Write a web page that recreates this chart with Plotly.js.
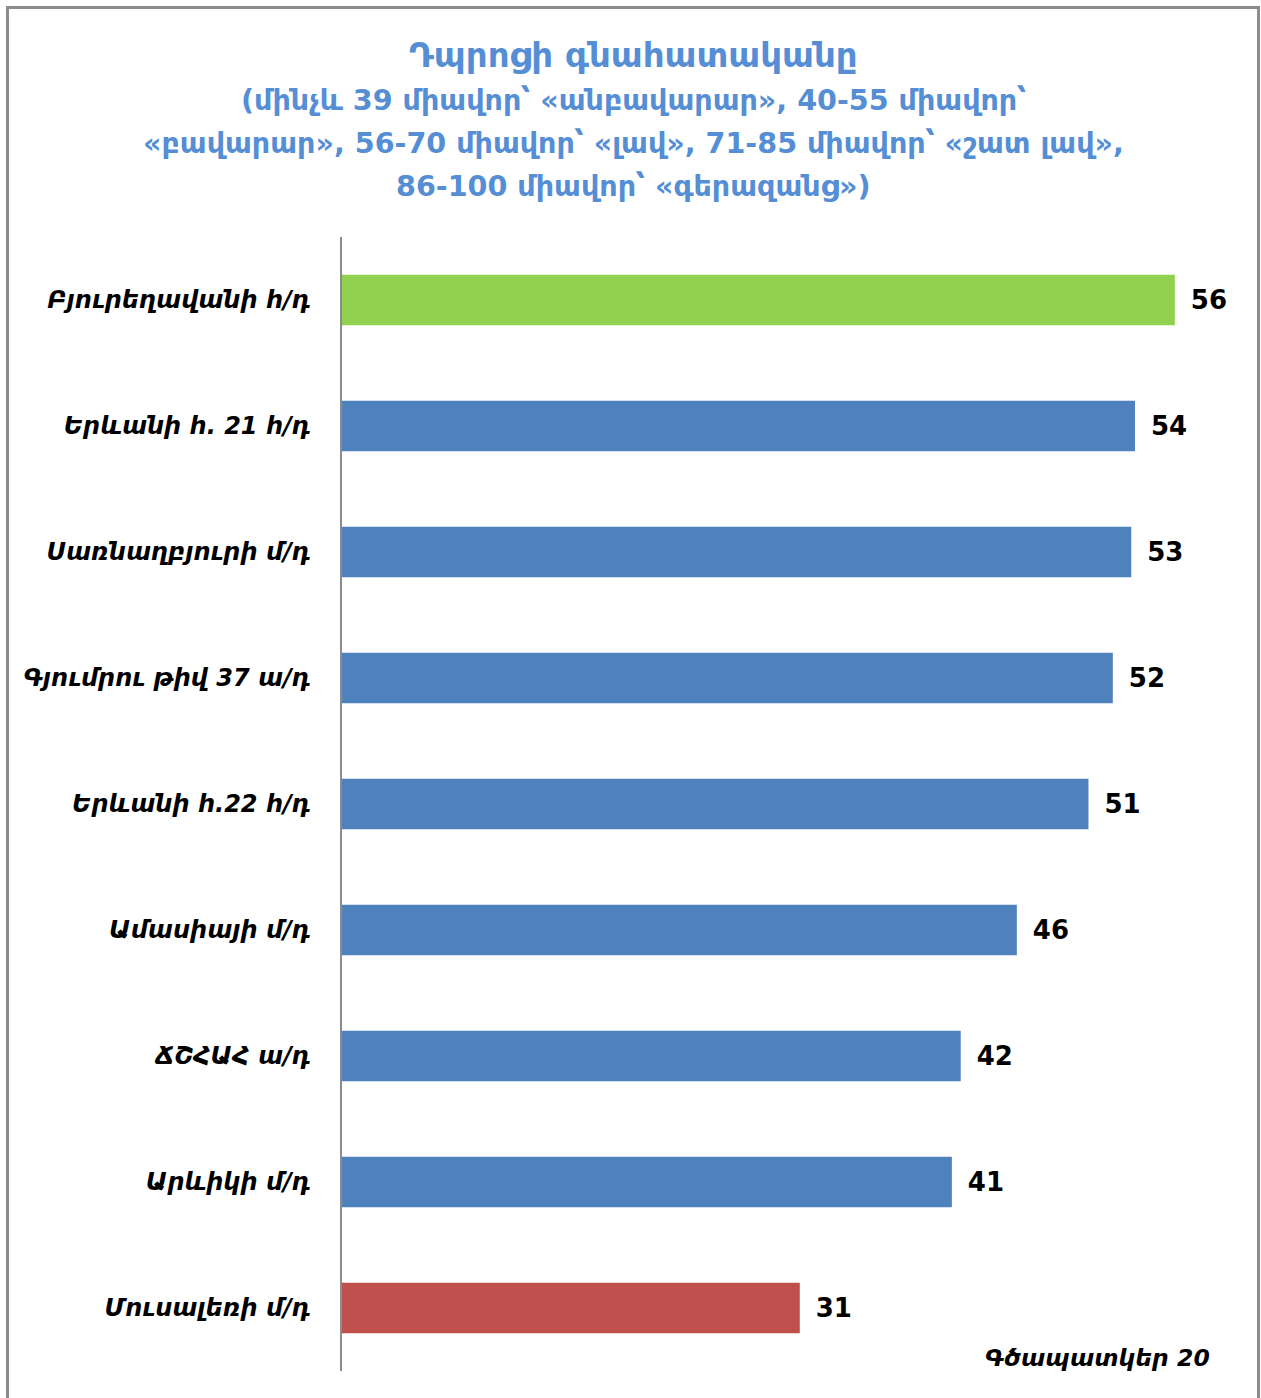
<!DOCTYPE html>
<html>
<head>
<meta charset="utf-8">
<script src="https://cdn.plot.ly/plotly-3.0.1.min.js"></script>
<style>
  html, body { margin: 0; padding: 0; background: #fff; }
  #wrap { position: relative; width: 1261px; height: 1398px; }
  #chart { width: 1261px; height: 1398px; }
  #frame { position: absolute; left: 6px; top: 6px; width: 1248px; height: 1400px;
           border: 3px solid #8c8c8c; border-bottom: none; pointer-events: none; }
</style>
</head>
<body>
<div id="wrap">
  <div id="chart"></div>
  <div id="frame"></div>
</div>
<script>
// Schools (categories), top to bottom
const categories = [
  "Բյուրեղավանի հ/դ",
  "Երևանի հ. 21 հ/դ",
  "Սառնաղբյուրի մ/դ",
  "Գյումրու թիվ 37 ա/դ",
  "Երևանի հ.22 հ/դ",
  "Ամասիայի մ/դ",
  "ՃՇՀԱՀ ա/դ",
  "Արևիկի մ/դ",
  "Մուսալեռի մ/դ"
];
// School score (bar lengths; labels show rounded values)
const scores = [56.4, 53.7, 53.45, 52.2, 50.55, 45.7, 41.9, 41.3, 31.0];
// Bar colours: best = green, worst = red, others blue
const barColors = ["#92D050", "#4F81BD", "#4F81BD", "#4F81BD", "#4F81BD", "#4F81BD", "#4F81BD", "#4F81BD", "#C0504D"];

const titleLines = [
  "Դպրոցի գնահատականը",
  "(մինչև 39 միավոր՝ «անբավարար», 40-55 միավոր՝",
  "«բավարար», 56-70 միավոր՝ «լավ», 71-85 միավոր՝ «շատ լավ»,",
  "86-100 միավոր՝ «գերազանց»)"
];
const footer = "Գծապատկեր 20";

const W = 1261, H = 1398;
const M = { l: 342, r: 33, t: 237, b: 27 };
const plotW = W - M.l - M.r, plotH = H - M.t - M.b;
const px2x = (px) => (px - M.l) / plotW;
const py2y = (py) => (H - M.b - py) / plotH;

const FONT = "DejaVu Sans, sans-serif";
const TITLE_COLOR = "#558ED5";

const trace = {
  type: "bar",
  orientation: "h",
  y: categories,
  x: scores,
  marker: { color: barColors, line: { width: 0 } },
  texttemplate: "\u2002%{x:.0f}",
  textposition: "outside",
  cliponaxis: false,
  textfont: { family: FONT, size: 26, color: "#000", weight: "bold" },
  hoverinfo: "skip"
};

// title lines as annotations (fixed pixel rows)
const titleRows = [55, 100, 143, 186];
const titleSizes = [34, 28.6, 28.6, 28.6];
const annotations = titleLines.map((t, i) => ({
  text: t,
  xref: "paper", yref: "paper",
  x: px2x(633), y: py2y(titleRows[i]),
  xanchor: "center", yanchor: "middle",
  showarrow: false,
  font: { family: FONT, size: titleSizes[i], color: TITLE_COLOR, weight: "bold" }
}));
annotations.push({
  text: footer,
  xref: "paper", yref: "paper",
  x: px2x(1212), y: py2y(1358),
  xanchor: "right", yanchor: "middle",
  showarrow: false,
  font: { family: FONT, size: 23.5, color: "#000", style: "italic", weight: "bold" }
});

const layout = {
  width: W, height: H,
  paper_bgcolor: "#fff", plot_bgcolor: "#fff",
  margin: M,
  bargap: 0.6,
  showlegend: false,
  xaxis: {
    range: [0, 60],
    showgrid: false, zeroline: false, showline: false,
    showticklabels: false, ticks: ""
  },
  yaxis: {
    autorange: "reversed",
    showgrid: false, zeroline: false,
    showline: true, linecolor: "#8c8c8c", linewidth: 2.5,
    ticks: "", ticklabelstandoff: 24,
    tickfont: { family: FONT, size: 24, color: "#000", style: "italic", weight: "bold" }
  },
  annotations: annotations
};

Plotly.newPlot("chart", [trace], layout, { displayModeBar: false, staticPlot: true });
</script>
</body>
</html>
